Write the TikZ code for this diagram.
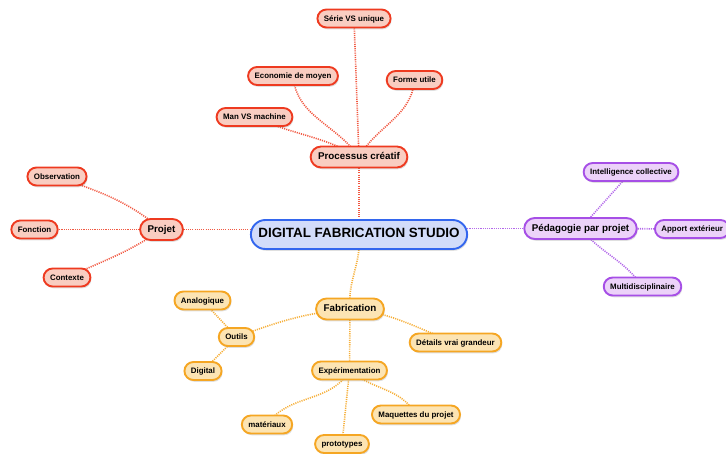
\documentclass[tikz,border=0pt]{standalone}
\usepackage{fontspec}
\setmainfont{Liberation Sans}
\usetikzlibrary{shadows,backgrounds}

\definecolor{redline}{HTML}{EE3A20}
\definecolor{redfill}{HTML}{F9CDC1}
\definecolor{blueline}{HTML}{3366EE}
\definecolor{bluefill}{HTML}{D2DCFA}
\definecolor{purpleline}{HTML}{A64FE6}
\definecolor{purplefill}{HTML}{ECD2F9}
\definecolor{orangeline}{HTML}{F5A623}
\definecolor{orangefill}{HTML}{FCE4B3}

\begin{document}
\begin{tikzpicture}[x=1pt,y=-1pt,
    box/.style={draw, line width=1.9pt, text=black, text height=0.75em, text depth=0.22em,
        drop shadow={shadow xshift=1pt, shadow yshift=-1.8pt, opacity=0.25}},
    leaf/.style={box, rounded corners=9pt, minimum height=18pt, inner xsep=6.5pt, inner ysep=0pt,
        font=\bfseries\fontsize{7.9}{9}\selectfont},
    main/.style={box, rounded corners=10.5pt, minimum height=21pt, inner xsep=7.5pt, inner ysep=0pt,
        font=\bfseries\fontsize{9.8}{11}\selectfont},
    hub/.style={box, rounded corners=14.5pt, minimum height=29pt, inner xsep=7.5pt, inner ysep=0pt,
        draw=blueline, fill=bluefill, font=\bfseries\fontsize{13.4}{15}\selectfont},
    redleaf/.style={leaf, draw=redline, fill=redfill},
    redmain/.style={main, draw=redline, fill=redfill},
    purpleleaf/.style={leaf, draw=purpleline, fill=purplefill},
    purplemain/.style={main, draw=purpleline, fill=purplefill},
    orangeleaf/.style={leaf, draw=orangeline, fill=orangefill},
    orangemain/.style={main, draw=orangeline, fill=orangefill},
    link/.style={line width=1.6pt, dash pattern=on 1.1pt off 1.1pt},
    redlink/.style={link, draw=redline!85},
    purplelink/.style={link, draw=purpleline!85},
    orangelink/.style={link, draw=orangeline!90}]
\useasboundingbox (0,0) rectangle (726,454);

\node[hub] (studio) at (359,234.5) {DIGITAL FABRICATION STUDIO};

% processus creatif
\node[redmain] (processus) at (359,157) {Processus créatif};
\node[redleaf] (serie) at (354,18.5) {Série VS unique};
\node[redleaf] (economie) at (293,76) {Economie de moyen};
\node[redleaf] (forme) at (414.5,80) {Forme utile};
\node[redleaf] (man) at (254.5,117) {Man VS machine};

% projet
\node[redmain] (projet) at (161.5,229.5) {Projet};
\node[redleaf] (observation) at (57,176.5) {Observation};
\node[redleaf] (fonction) at (34.5,229.5) {Fonction};
\node[redleaf] (contexte) at (67,277.5) {Contexte};

% pedagogie
\node[purplemain] (pedagogie) at (580.5,228.5) {Pédagogie par projet};
\node[purpleleaf] (intelligence) at (631,172) {Intelligence collective};
\node[purpleleaf, anchor=west] (apport) at (654,229) {Apport extérieur};
\node[purpleleaf] (multi) at (642.5,286.5) {Multidisciplinaire};

% fabrication
\node[orangemain] (fabrication) at (350,309) {Fabrication};
\node[orangeleaf] (outils) at (236.5,337) {Outils};
\node[orangeleaf] (analogique) at (202.5,300.5) {Analogique};
\node[orangeleaf] (digital) at (203,371) {Digital};
\node[orangeleaf] (details) at (455.5,342.5) {Détails vrai grandeur};
\node[orangeleaf] (experimentation) at (349.5,370.5) {Expérimentation};
\node[orangeleaf] (materiaux) at (267,424.5) {matériaux};
\node[orangeleaf] (prototypes) at (342,444) {prototypes};
\node[orangeleaf] (maquettes) at (416,414.5) {Maquettes du projet};

\begin{scope}[on background layer]
    \draw[redlink] (processus.center) -- (studio.center);
    \draw[redlink] (processus.center) -- (serie.center);
    \draw[redlink] (processus.center) to[out=125,in=-85] (economie.center);
    \draw[redlink] (processus.center) to[out=60,in=-95] (forme.center);
    \draw[redlink] (processus.center) to[out=150,in=-25] (man.center);

    \draw[redlink] (projet.center) -- (projet.center -| studio.center);
    \draw[redlink] (projet.center) to[out=140,in=-20] (observation.center);
    \draw[redlink] (projet.center) -- (fonction.center);
    \draw[redlink] (projet.center) to[out=215,in=25] (contexte.center);

    \draw[purplelink] (pedagogie.center) -- (pedagogie.center -| studio.center);
    \draw[purplelink] (pedagogie.center) -- (intelligence.center);
    \draw[purplelink] (pedagogie.center) -- (apport.center);
    \draw[purplelink] (pedagogie.center) to[out=-50,in=125] (multi.center);

    \draw[orangelink] (studio.center) to[out=-85,in=95] (fabrication.center);
    \draw[orangelink] (fabrication.center) to[out=185,in=20] (outils.center);
    \draw[orangelink] (outils.center) -- (analogique.center);
    \draw[orangelink] (outils.center) -- (digital.center);
    \draw[orangelink] (fabrication.center) to[out=-5,in=160] (details.center);
    \draw[orangelink] (fabrication.center) -- (experimentation.center);
    \draw[orangelink] (experimentation.center) to[out=-120,in=55] (materiaux.center);
    \draw[orangelink] (experimentation.center) -- (prototypes.center);
    \draw[orangelink] (experimentation.center) to[out=-40,in=120] (maquettes.center);
\end{scope}
\end{tikzpicture}
\end{document}
